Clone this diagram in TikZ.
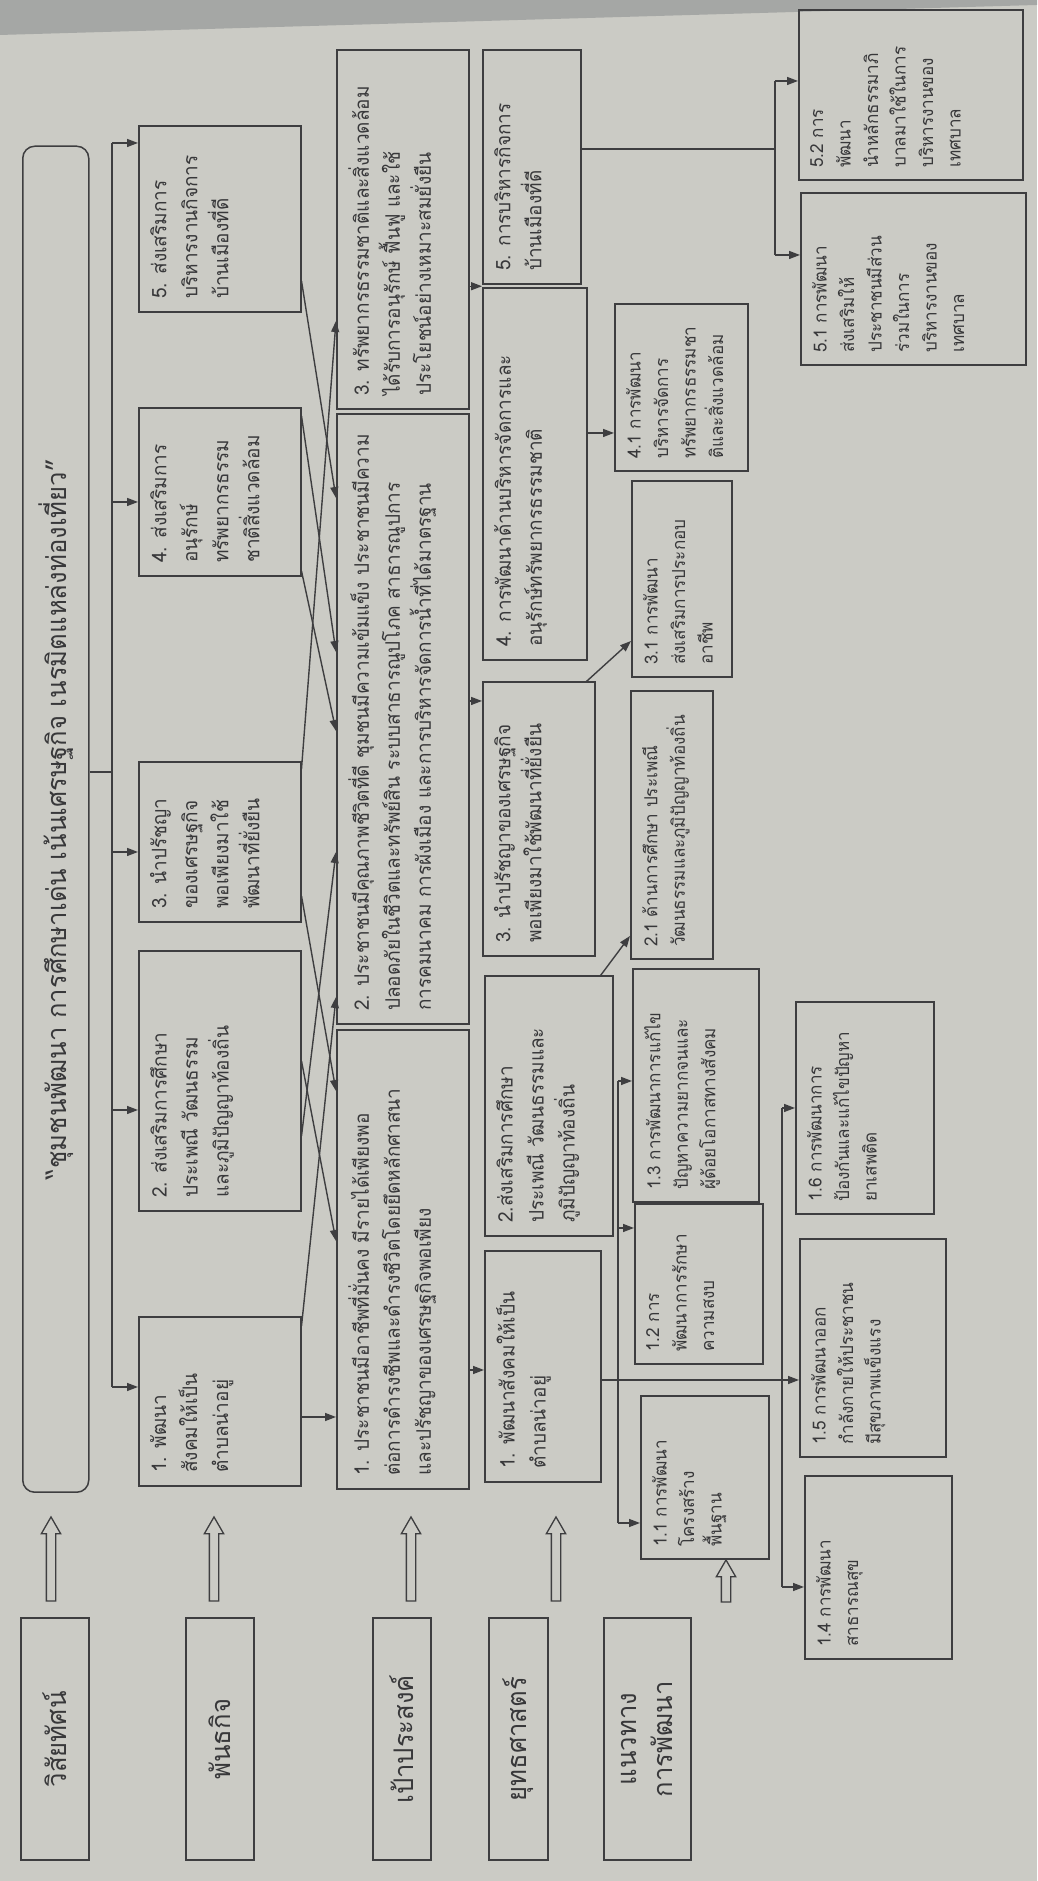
\documentclass[tikz,border=0pt]{standalone}
\usepackage{fontspec}
\newfontfamily\thai[Script=Thai, FakeStretch=0.95]{Loma}
\usetikzlibrary{arrows.meta,shapes.arrows,calc}
\definecolor{bg}{RGB}{203,203,197}
\definecolor{lc}{RGB}{62,62,64}
\definecolor{ink}{RGB}{56,56,58}
\definecolor{dark}{RGB}{165,167,165}
\tikzset{
  bx/.style={draw=lc, line width=1.5pt, rectangle, inner sep=0pt, anchor=south west},
  tx/.style={rotate=90, anchor=north west, align=left, inner sep=0pt, text=ink, font=\thai\fontsize{20}{31}\selectfont},
  txs/.style={rotate=90, anchor=north west, align=left, inner sep=0pt, text=ink, font=\thai\fontsize{18}{27.5}\selectfont},
  lbl/.style={rotate=90, align=center, inner sep=0pt, text=ink, font=\thai\fontsize{27}{36}\selectfont},
  wire/.style={draw=lc, line width=1.4pt},
  arr/.style={draw=lc, line width=1.4pt, -{Triangle[length=11pt,width=8pt]}},
  hollow/.style={single arrow, draw=lc, line width=1.3pt, fill=bg, rotate=90, inner sep=4pt, minimum width=0pt, single arrow head extend=5pt, single arrow tip angle=60}
}
\newcommand\gbox[6]{%
  \node[bx, minimum width=#4pt, minimum height=#5pt] (#1) at (#2,#3) {};
  \node[tx] (#1t) at (#2+12,#3+14) {#6};}
\newcommand\gboxsm[6]{%
  \node[bx, minimum width=#4pt, minimum height=#5pt] (#1) at (#2,#3) {};
  \node[txs] (#1t) at (#2+12,#3+13) {#6};}
\newcommand\lbox[6]{%
  \node[bx, minimum width=#4pt, minimum height=#5pt] (#1) at (#2,#3) {};
  \node[lbl] (#1t) at (#1.center) {#6};}
\begin{document}
\begin{tikzpicture}[x=1pt,y=1pt]
\useasboundingbox (0,0) rectangle (1037,1881);
\fill[bg] (0,0) rectangle (1037,1881);
\fill[dark] (0,1881) -- (1037,1881) -- (1037,1876) -- (0,1846) -- cycle;

% row labels
\lbox{L1}{20}{20}{68}{242}{วิสัยทัศน์}
\lbox{L2}{185}{20}{68}{242}{พันธกิจ}
\lbox{L3}{372}{20}{58}{242}{เป้าประสงค์}
\lbox{L4}{488}{20}{59}{242}{ยุทธศาสตร์}
\lbox{L5}{603}{20}{87}{242}{แนวทาง\\การพัฒนา}

% hollow arrows
\node[hollow, minimum height=84pt] (h1) at (51,318) {};
\node[hollow, minimum height=84pt] (h2) at (214,318) {};
\node[hollow, minimum height=84pt] (h3) at (411,318) {};
\node[hollow, minimum height=84pt] (h4) at (556,318) {};
\node[hollow, minimum height=42pt] (h5) at (726,296) {};

% vision
\node[draw=lc, line width=1.5pt, rounded corners=12pt, anchor=south west, inner sep=0pt,
      minimum width=66pt, minimum height=1346pt] (title) at (22,388) {};
\node[rotate=90, inner sep=0pt, text=ink, font=\thai\fontsize{27}{34}\selectfont] (titlet) at (title.center)
  {“ชุมชนพัฒนา การศึกษาเด่น เน้นเศรษฐกิจ เนรมิตแหล่งท่องเที่ยว”};

% mission
\gbox{M1}{138}{394}{162}{169}{1. พัฒนา\\สังคมให้เป็น\\ตำบลน่าอยู่}
\gbox{M2}{138}{669}{162}{260}{2. ส่งเสริมการศึกษา\\ประเพณี วัฒนธรรม\\และภูมิปัญญาท้องถิ่น}
\gbox{M3}{138}{958}{162}{160}{3. นำปรัชญา\\ของเศรษฐกิจ\\พอเพียงมาใช้\\พัฒนาที่ยั่งยืน}
\gbox{M4}{138}{1304}{162}{168}{4. ส่งเสริมการ\\อนุรักษ์\\ทรัพยากรธรรม\\ชาติสิ่งแวดล้อม}
\gbox{M5}{138}{1568}{162}{186}{5. ส่งเสริมการ\\บริหารงานกิจการ\\บ้านเมืองที่ดี}

% goals
\gbox{G1}{336}{391}{132}{459}{1. ประชาชนมีอาชีพที่มั่นคง มีรายได้เพียงพอ\\ต่อการดำรงชีพและดำรงชีวิตโดยยึดหลักศาสนา\\และปรัชญาของเศรษฐกิจพอเพียง}
\gbox{G2}{336}{856}{132}{610}{2. ประชาชนมีคุณภาพชีวิตที่ดี ชุมชนมีความเข้มแข็ง ประชาชนมีความ\\ปลอดภัยในชีวิตและทรัพย์สิน ระบบสาธารณูปโภค สาธารณูปการ\\การคมนาคม การผังเมือง และการบริหารจัดการน้ำที่ได้มาตรฐาน}
\gbox{G3}{336}{1471}{132}{359}{3. ทรัพยากรธรรมชาติและสิ่งแวดล้อม\\ได้รับการอนุรักษ์ ฟื้นฟู และใช้\\ประโยชน์อย่างเหมาะสมยั่งยืน}

% strategies
\gbox{S1}{484}{398}{116}{231}{1. พัฒนาสังคมให้เป็น\\ตำบลน่าอยู่}
\gbox{S2}{484}{644}{128}{260}{2.ส่งเสริมการศึกษา\\ประเพณี วัฒนธรรมและ\\ภูมิปัญญาท้องถิ่น}
\gbox{S3}{482}{924}{112}{274}{3. นำปรัชญาของเศรษฐกิจ\\พอเพียงมาใช้พัฒนาที่ยั่งยืน}
\gbox{S4}{482}{1220}{104}{372}{4. การพัฒนาด้านบริหารจัดการและ\\อนุรักษ์ทรัพยากรธรรมชาติ}
\gbox{S5}{482}{1596}{98}{234}{5. การบริหารกิจการ\\บ้านเมืองที่ดี}

% guidelines
\gboxsm{g11}{640}{321}{128}{163}{1.1 การพัฒนา\\โครงสร้าง\\พื้นฐาน}
\gboxsm{g12}{634}{516}{128}{160}{1.2 การ\\พัฒนาการรักษา\\ความสงบ}
\gboxsm{g13}{632}{678}{126}{233}{1.3 การพัฒนาการแก้ไข\\ปัญหาความยากจนและ\\ผู้ด้อยโอกาสทางสังคม}
\gboxsm{g21}{630}{921}{82}{268}{2.1 ด้านการศึกษา ประเพณี\\วัฒนธรรมและภูมิปัญญาท้องถิ่น}
\gboxsm{g31}{631}{1203}{100}{196}{3.1 การพัฒนา\\ส่งเสริมการประกอบ\\อาชีพ}
\gboxsm{g41}{614}{1409}{133}{167}{4.1 การพัฒนา\\บริหารจัดการ\\ทรัพยากรธรรมชา\\ติและสิ่งแวดล้อม}
\gboxsm{g14}{804}{221}{147}{183}{1.4 การพัฒนา\\สาธารณสุข}
\gboxsm{g15}{799}{423}{146}{218}{1.5 การพัฒนาออก\\กำลังกายให้ประชาชน\\มีสุขภาพแข็งแรง}
\gboxsm{g16}{795}{666}{138}{212}{1.6 การพัฒนาการ\\ป้องกันและแก้ไขปัญหา\\ยาเสพติด}
\gboxsm{g51}{800}{1515}{225}{172}{5.1 การพัฒนา\\ส่งเสริมให้\\ประชาชนมีส่วน\\ร่วมในการ\\บริหารงานของ\\เทศบาล}
\gboxsm{g52}{798}{1700}{224}{170}{5.2 การ\\พัฒนา\\นำหลักธรรมาภิ\\บาลมาใช้ในการ\\บริหารงานของ\\เทศบาล}

% vision bus
\coordinate (b1) at (112,494);
\coordinate (b2) at (112,771);
\coordinate (b3) at (112,1029);
\coordinate (b4) at (112,1379);
\coordinate (b5) at (112,1738);
\coordinate (bt) at (112,1109);
\draw[wire] (b1) -- (b5);
\draw[wire] (title.east |- bt) -- (bt);
\draw[arr] (b1) -- (M1.west |- b1);
\draw[arr] (b2) -- (M2.west |- b2);
\draw[arr] (b3) -- (M3.west |- b3);
\draw[arr] (b4) -- (M4.west |- b4);
\draw[arr] (b5) -- (M5.west |- b5);

% mission -> goals
\draw[arr] (M1.east |- 0,464) -- (G1.west |- 0,464);
\draw[arr] (M1.east |- 0,555) -- (G2.west |- 0,884);
\draw[arr] (M2.east |- 0,820) -- (G1.west |- 0,640);
\draw[arr] (M2.east |- 0,745) -- (G2.west |- 0,1029);
\draw[arr] (M3.east |- 0,985) -- (G1.west |- 0,790);
\draw[arr] (M3.east |- 0,1112) -- (G3.west |- 0,1560);
\draw[arr] (M4.east |- 0,1310) -- (G2.west |- 0,1150);
\draw[arr] (M4.east |- 0,1465) -- (G2.west |- 0,1229);
\draw[arr] (M5.east |- 0,1600) -- (G2.west |- 0,1383);

% goals -> strategies
\coordinate (s45) at ($(S4.north west)!0.5!(S5.south west)$);
\draw[arr] (G1.east |- 0,511) -- (S1.west |- 0,511);
\draw[arr] (G2.east |- 0,1180) -- (S3.west |- 0,1180);
\draw[arr] (G3.east |- s45) -- (s45);

% strategies -> guidelines
\coordinate (k1) at (618,358);
\coordinate (k2) at (618,653);
\coordinate (k3) at (618,800);
\coordinate (q1) at (782,294);
\coordinate (q2) at (782,773);
\draw[arr] (S1.east |- 0,501) -- (g15.west |- 0,501);
\draw[wire] (k1) -- (k3);
\draw[arr] (k1) -- (g11.west |- k1);
\draw[arr] (k2) -- (g12.west |- k2);
\draw[arr] (k3) -- (g13.west |- k3);
\draw[wire] (q1) -- (q2);
\draw[arr] (q1) -- (g14.west |- q1);
\draw[arr] (q2) -- (g16.west |- q2);
\draw[arr] ($(S2.north east)!0.1!(S2.north west)$) -- (g21.west |- 0,945);
\draw[arr] ($(S3.north east)!0.08!(S3.north west)$) -- (g31.west |- 0,1240);
\draw[arr] (S4.east |- 0,1448) -- (g41.west |- 0,1448);
\coordinate (r0) at (775,1732);
\coordinate (r1) at (775,1626);
\coordinate (r2) at (775,1800);
\draw[wire] (S5.east |- r0) -- (r0);
\draw[wire] (r1) -- (r2);
\draw[arr] (r1) -- (g51.west |- r1);
\draw[arr] (r2) -- (g52.west |- r2);
\end{tikzpicture}
\end{document}
